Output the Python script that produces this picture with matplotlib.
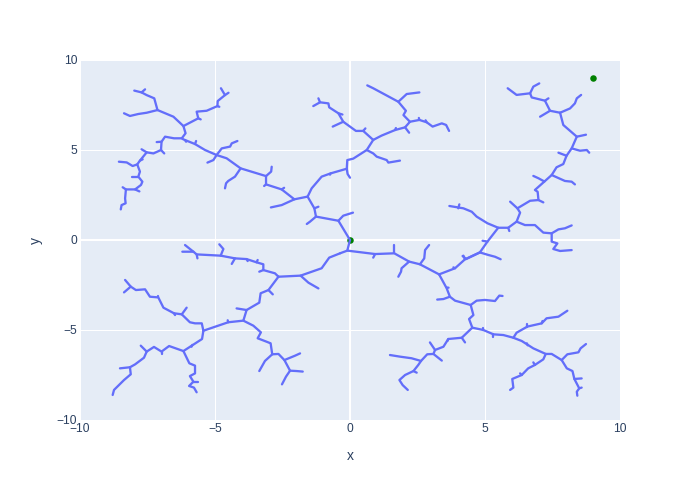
import matplotlib as mpl
mpl.use('Agg')
import matplotlib.pyplot as plt

plt.rcParams['font.family'] = ['Liberation Sans', 'DejaVu Sans']

# upper left limb, starts at the root
ul_root = [(0, 0), (-0.43, 1.07), (-1.26, 1.30), (-1.32, 1.76), (-1.57, 2.41)]
ul_a = [(-0.43, 1.07), (-0.25, 1.35), (-0.06, 1.44), (0.11, 1.52)]
ul_b = [(-1.26, 1.30), (-1.48, 1.02), (-1.60, 0.89)]
ul_c = [(-1.32, 1.76), (-1.17, 1.85)]
ul_d = [(-1.57, 2.41), (-2.06, 2.26), (-2.53, 1.94), (-2.93, 1.81)]
ul_trunk = [(-2.06, 2.26), (-2.53, 2.81), (-3.11, 3.09), (-3.11, 3.55), (-4.05, 3.98), (-4.57, 4.54),
            (-4.94, 4.72), (-5.37, 5.0), (-5.74, 5.33), (-6.17, 5.59), (-6.23, 5.65), (-6.52, 5.65),
            (-6.85, 5.74), (-6.98, 5.46), (-7.0, 5.0), (-7.28, 4.81), (-7.53, 4.87), (-7.72, 5.04)]
ul_e = [(-6.23, 5.65), (-6.09, 5.93), (-6.17, 6.33), (-6.54, 6.85), (-7.13, 7.22), (-7.25, 7.87),
        (-7.53, 8.05), (-7.72, 8.20), (-7.99, 8.30)]
ul_f = [(-7.72, 8.20), (-7.59, 8.37)]
ul_g = [(-7.13, 7.22), (-7.53, 7.07), (-7.84, 7.0), (-8.15, 6.89), (-8.37, 7.04)]
ul_h = [(-6.17, 6.33), (-5.62, 6.76), (-5.68, 7.13), (-5.31, 7.18), (-4.91, 7.44), (-4.90, 7.72),
        (-4.63, 8.05), (-4.78, 8.43)]
ul_i = [(-4.63, 8.05), (-4.50, 8.18)]
ul_j = [(-6.98, 5.46), (-7.16, 5.44)]
ul_k = [(-7.0, 5.0), (-6.88, 4.81)]
ul_l = [(-7.53, 4.87), (-7.78, 4.41), (-7.88, 4.20), (-8.05, 4.11), (-8.27, 4.31), (-8.56, 4.35)]
ul_m = [(-7.88, 4.20), (-7.78, 3.80), (-7.84, 3.52), (-7.69, 3.24), (-7.74, 3.06), (-7.96, 2.81),
        (-8.30, 2.81), (-8.33, 2.31), (-8.31, 2.04), (-8.46, 1.94), (-8.49, 1.70)]
ul_n = [(-7.84, 3.52), (-8.06, 3.52)]
ul_o = [(-8.30, 2.81), (-8.42, 2.93)]
ul_p = [(-7.96, 2.81), (-7.80, 2.70)]
ul_q = [(-4.94, 4.72), (-4.75, 5.09), (-4.44, 5.19), (-4.38, 5.37), (-4.17, 5.50)]
ul_r = [(-4.94, 4.72), (-5.06, 4.44), (-5.28, 4.30)]
ul_s = [(-4.05, 3.98), (-4.26, 3.52), (-4.51, 3.28), (-4.59, 3.15), (-4.63, 2.87)]
ul_t = [(-3.11, 3.55), (-2.92, 3.80), (-2.90, 4.07)]
ul_u = [(-3.11, 3.09), (-3.18, 3.0)]
ul_v = [(-5.74, 5.33), (-5.70, 5.50)]

# upper middle limb
um_trunk = [(-1.57, 2.41), (-1.42, 2.87), (-1.05, 3.52), (-0.72, 3.70), (-0.12, 3.96), (-0.10, 4.44),
            (0.12, 4.52), (0.62, 5.0), (0.86, 5.56)]
um_a = [(-0.12, 3.96), (-0.09, 3.67), (0, 3.46)]
um_b = [(0.62, 5.0), (0.86, 4.81), (0.99, 4.63), (1.36, 4.44), (1.42, 4.30), (1.85, 4.41)]
um_c = [(0.86, 5.56), (0.49, 6.06), (0.22, 6.06), (-0.25, 6.57), (-0.43, 7.04), (-0.77, 7.37),
        (-0.80, 7.59), (-1.11, 7.65), (-1.36, 7.44)]
um_d = [(-1.11, 7.65), (-1.17, 7.87)]
um_e = [(-0.25, 6.57), (-0.64, 6.30)]
um_f = [(0.86, 5.56), (1.17, 5.80), (1.67, 6.11), (2.04, 6.26), (2.22, 6.57), (1.98, 6.94), (2.07, 7.18),
        (1.79, 7.68), (1.17, 8.18), (0.86, 8.43), (0.64, 8.59)]
um_g = [(1.79, 7.68), (2.10, 8.11), (2.57, 8.20)]
um_h = [(2.22, 6.57), (2.57, 6.67), (2.84, 6.54), (3.06, 6.30), (3.40, 6.48), (3.56, 6.39), (3.67, 6.06)]
um_i = [(2.04, 6.26), (2.19, 5.96)]

# lower right limb, the one that goes up to the top right corner
lr_root = [(0, 0), (-0.10, -0.59), (0.93, -0.78), (1.64, -0.74), (2.19, -1.20), (2.59, -1.35), (3.30, -1.91)]
lr_a = [(-0.10, -0.59), (-0.37, -0.74)]
lr_b = [(0.93, -0.78), (0.86, -0.98)]
lr_c = [(1.64, -0.74), (1.64, -0.28)]
lr_d = [(2.19, -1.20), (1.91, -1.57), (1.89, -1.76), (1.79, -2.04)]
lr_e = [(2.59, -1.35), (2.75, -1.02), (2.78, -0.56), (2.93, -0.28)]
ur_trunk = [(3.30, -1.91), (3.89, -1.57), (4.26, -1.07), (4.81, -0.69), (5.09, -0.09), (5.49, 0.68),
            (5.86, 0.68), (6.17, 1.02), (6.30, 1.52), (6.20, 1.76), (6.67, 2.18), (6.98, 2.22), (6.95, 2.68),
            (6.85, 2.78), (7.47, 3.61), (7.65, 4.04), (7.90, 4.22), (8.02, 4.68), (8.21, 5.09), (8.40, 5.74),
            (7.90, 6.39), (7.78, 7.07)]
ur_a = [(6.20, 1.76), (5.93, 2.13)]
ur_b = [(6.98, 2.22), (7.16, 2.09)]
ur_c = [(7.20, 3.25), (6.98, 3.43), (6.79, 3.56)]
ur_d = [(7.47, 3.61), (7.96, 3.28), (8.21, 3.24), (8.33, 3.09)]
ur_e = [(8.02, 4.68), (7.72, 4.85)]
ur_f = [(8.21, 5.09), (8.52, 4.96), (8.77, 5.0), (8.86, 4.85)]
ur_g = [(8.40, 5.74), (8.74, 5.85)]
ur_h = [(7.78, 7.07), (7.41, 7.18), (7.04, 6.85)]
ur_i = [(7.41, 7.18), (7.22, 7.74), (6.73, 7.92), (6.67, 8.15), (6.17, 8.06), (5.84, 8.43)]
ur_j = [(6.67, 8.15), (6.79, 8.52), (7.01, 8.70)]
ur_k = [(7.22, 7.74), (7.35, 7.87)]
ur_l = [(7.78, 7.07), (8.15, 7.31), (8.33, 7.59), (8.40, 7.87), (8.56, 8.06)]
ur_m = [(6.17, 1.02), (6.48, 0.83), (6.85, 0.83), (7.16, 0.41), (7.47, 0.37), (7.72, 0.59), (7.96, 0.65), (8.21, 0.81)]
ur_n = [(7.47, 0.37), (7.47, -0.09), (7.68, -0.19), (7.53, -0.5), (7.78, -0.61), (8.21, -0.56)]
ur_o = [(5.09, -0.09), (4.91, -0.04)]
ur_p = [(5.49, 0.68), (5.09, 0.93), (4.69, 1.30), (4.51, 1.57), (4.20, 1.76), (3.68, 1.89)]
ur_q = [(4.01, 1.76), (4.05, 1.98)]
ur_r = [(5.86, 0.68), (5.90, 0.50)]
ur_s = [(4.81, -0.69), (4.30, -1.06), (4.17, -0.89)]
ur_t = [(4.81, -0.69), (5.12, -0.83), (5.37, -0.93), (5.58, -1.07)]
ur_u = [(4.26, -1.07), (4.20, -0.87)]

# lower right part below the first fork
lr_trunk = [(3.30, -1.91), (3.58, -2.68), (3.70, -3.15), (3.89, -3.37), (4.47, -3.61), (4.57, -4.17),
            (4.41, -4.39), (4.53, -4.87), (4.94, -5.0), (5.31, -5.24), (5.68, -5.28), (6.05, -5.43),
            (6.36, -5.61), (6.79, -6.02), (7.25, -6.33), (7.47, -6.33), (7.84, -6.67), (8.03, -7.13),
            (8.24, -7.28), (8.31, -7.72), (8.49, -8.24), (8.40, -8.43), (8.42, -8.65)]
lr_f = [(3.70, -3.15), (3.46, -3.28), (3.23, -3.31)]
lr_g = [(4.47, -3.61), (4.69, -3.37), (5.0, -3.33), (5.37, -3.39), (5.53, -3.09), (5.65, -3.11)]
lr_h = [(8.31, -7.72), (8.58, -7.69)]
lr_i = [(8.49, -8.24), (8.58, -8.20)]
lr_j = [(7.84, -6.67), (8.05, -6.35), (8.46, -6.24), (8.54, -6.02), (8.74, -5.78)]
lr_k = [(6.05, -5.43), (6.17, -5.15), (6.57, -4.81), (7.10, -4.63), (7.28, -4.35), (7.72, -4.26), (8.05, -3.93)]
lr_l = [(7.25, -6.33), (7.16, -6.63), (6.85, -6.94), (6.60, -7.13), (6.36, -7.5), (6.01, -7.72), (6.05, -8.2), (5.93, -8.33)]
lr_m = [(4.53, -4.87), (4.14, -5.43), (3.64, -5.50), (3.46, -5.93), (3.15, -6.11), (3.09, -6.33),
        (2.86, -6.35), (2.63, -6.72), (2.28, -6.57), (1.85, -6.48), (1.48, -6.39)]
lr_n = [(4.14, -5.43), (4.26, -5.69)]
lr_o = [(3.15, -6.11), (2.96, -5.69)]
lr_p = [(3.09, -6.33), (3.40, -6.70)]
lr_q = [(2.63, -6.72), (2.53, -6.94), (2.35, -7.28), (2.04, -7.50), (1.83, -7.78), (1.95, -8.06), (2.14, -8.33)]
lr_r = [(2.35, -7.28), (2.47, -7.37)]

# lower left limb
ll_root = [(-0.37, -0.74), (-0.77, -0.98), (-1.05, -1.57), (-1.83, -1.98), (-2.65, -2.04)]
ll_a = [(-2.65, -2.04), (-2.78, -1.85), (-3.21, -1.67), (-3.21, -1.35), (-3.46, -1.24), (-3.83, -1.06),
        (-4.26, -1.02), (-4.79, -0.87), (-5.68, -0.80), (-5.80, -0.65), (-6.21, -0.65)]
ll_b = [(-5.80, -0.65), (-6.11, -0.28)]
ll_c = [(-4.79, -0.87), (-4.69, -0.50), (-4.84, -0.24)]
ll_d = [(-4.26, -1.02), (-4.38, -1.33)]
ll_e = [(-5.68, -0.80), (-5.65, -1.02)]
ll_f = [(-3.21, -1.67), (-3.36, -1.76)]
ll_g = [(-1.83, -1.98), (-1.54, -2.37), (-1.17, -2.69)]
ll_trunk = [(-2.65, -2.04), (-3.02, -2.78), (-3.31, -2.96), (-3.36, -3.48), (-3.83, -3.89), (-3.95, -4.48),
            (-4.51, -4.57), (-5.43, -5.04)]
ll_h = [(-3.02, -2.78), (-2.86, -3.02)]
ll_i = [(-3.83, -3.89), (-4.20, -3.80)]
ll_j = [(-3.95, -4.48), (-3.58, -4.76), (-3.30, -5.13), (-3.42, -5.46), (-3.09, -5.65), (-2.94, -5.74),
        (-2.88, -6.35), (-3.15, -6.72), (-3.36, -7.28)]
ll_k = [(-2.88, -6.35), (-2.65, -6.33), (-2.43, -6.67), (-2.04, -6.43), (-1.85, -6.30)]
ll_l = [(-2.43, -6.67), (-2.22, -7.26), (-1.98, -7.28), (-1.75, -7.31)]
ll_m = [(-2.22, -7.26), (-2.37, -7.59), (-2.52, -8.02)]
ll_n = [(-5.43, -5.04), (-5.49, -4.63), (-5.74, -4.63), (-5.93, -4.57), (-6.23, -4.13), (-6.52, -4.07),
        (-6.91, -3.76), (-7.10, -3.19), (-7.41, -3.15), (-7.59, -2.74), (-7.93, -2.78), (-8.12, -2.59), (-8.33, -2.22)]
ll_o = [(-8.12, -2.59), (-8.37, -2.91)]
ll_p = [(-6.23, -4.13), (-6.05, -3.76)]
ll_q = [(-5.43, -5.04), (-5.48, -5.50), (-6.17, -6.17), (-6.70, -5.89), (-6.98, -6.20), (-7.26, -5.94),
        (-7.53, -6.20), (-7.75, -5.87)]
ll_r = [(-7.53, -6.20), (-7.63, -6.54), (-7.96, -6.91), (-8.15, -7.07), (-8.52, -7.13)]
ll_s = [(-8.15, -7.07), (-8.12, -7.46), (-8.37, -7.78), (-8.74, -8.33), (-8.79, -8.61)]
ll_t = [(-6.17, -6.17), (-5.95, -6.85), (-5.74, -6.98), (-5.74, -7.41), (-5.93, -7.56), (-5.80, -7.87),
        (-5.96, -8.11), (-5.78, -8.20), (-5.68, -8.46)]
ll_u = [(-5.80, -7.87), (-5.64, -7.87)]

# very short side shoots along the limbs
spurs = [[(0.49, 6.06), (0.57, 6.20)], [(1.67, 6.11), (1.70, 6.22)], [(2.57, 6.67), (2.55, 6.78)],
         [(2.84, 6.54), (2.80, 6.65)], [(-0.43, 7.04), (-0.28, 6.97)], [(-0.72, 3.70), (-0.74, 3.63)],
         [(-2.53, 2.81), (-2.44, 2.90)], [(-6.11, 5.55), (-6.07, 5.46)], [(-7.78, 4.41), (-7.68, 4.48)],
         [(-5.62, 6.76), (-5.53, 6.70)], [(-4.91, 7.44), (-4.84, 7.40)], [(3.58, -2.64), (3.65, -2.65)],
         [(3.89, -1.57), (3.83, -1.52)], [(5.31, -5.24), (5.31, -5.37)], [(4.94, -5.0), (4.94, -4.87)],
         [(6.55, -5.74), (6.58, -5.85)], [(3.64, -5.50), (3.61, -5.61)], [(6.57, -4.81), (6.57, -4.68)],
         [(7.10, -4.63), (7.13, -4.50)], [(6.85, -6.94), (6.79, -6.80)], [(6.36, -7.5), (6.30, -7.41)],
         [(-7.10, -3.19), (-7.10, -3.09)], [(-6.52, -4.07), (-6.48, -4.17)], [(-5.84, -5.83), (-5.87, -5.93)],
         [(-6.98, -6.20), (-6.98, -6.35)], [(-3.83, -1.06), (-3.79, -1.17)], [(-3.46, -1.24), (-3.42, -1.11)],
         [(-4.51, -4.57), (-4.53, -4.46)]]

start_x = [0, 9]
start_y = [0, 9]
ticks = [-10, -5, 0, 5, 10]

branches = [ul_root, ul_a, ul_b, ul_c, ul_d, ul_trunk, ul_e, ul_f, ul_g, ul_h, ul_i, ul_j, ul_k, ul_l, ul_m,
            ul_n, ul_o, ul_p, ul_q, ul_r, ul_s, ul_t, ul_u, ul_v,
            um_trunk, um_a, um_b, um_c, um_d, um_e, um_f, um_g, um_h, um_i,
            lr_root, lr_a, lr_b, lr_c, lr_d, lr_e,
            ur_trunk, ur_a, ur_b, ur_c, ur_d, ur_e, ur_f, ur_g, ur_h, ur_i, ur_j, ur_k, ur_l, ur_m, ur_n, ur_o,
            ur_p, ur_q, ur_r, ur_s, ur_t, ur_u,
            lr_trunk, lr_f, lr_g, lr_h, lr_i, lr_j, lr_k, lr_l, lr_m, lr_n, lr_o, lr_p, lr_q, lr_r,
            ll_root, ll_a, ll_b, ll_c, ll_d, ll_e, ll_f, ll_g, ll_trunk, ll_h, ll_i, ll_j, ll_k, ll_l, ll_m,
            ll_n, ll_o, ll_p, ll_q, ll_r, ll_s, ll_t, ll_u] + spurs

text_color = '#2a3f5f'

fig = plt.figure(figsize=(7, 5), dpi=100)
ax = fig.add_axes([80 / 700, 80 / 500, 540 / 700, 360 / 500])
ax.set_facecolor('#E5ECF6')
for s in ax.spines.values():
    s.set_visible(False)

ax.set_axisbelow(True)
ax.grid(True, color='white', linewidth=0.75)
ax.axhline(0, color='white', linewidth=1.5, zorder=1)
ax.axvline(0, color='white', linewidth=1.5, zorder=1)

# dots go under the tree, the origin one is partly covered in the reference
ax.scatter(start_x, start_y, s=22, color='green', linewidths=0, zorder=2)
for b in branches:
    ax.plot([p[0] for p in b], [p[1] for p in b], color='#636efa', linewidth=1.65,
            solid_joinstyle='round', solid_capstyle='round', zorder=3)

ax.set_xlim(-10, 10)
ax.set_ylim(-10, 10)
ax.set_xticks(ticks)
ax.set_yticks(ticks)
ax.set_xticklabels(['\u2212' + str(-t) if t < 0 else str(t) for t in ticks])
ax.set_yticklabels(['\u2212' + str(-t) if t < 0 else str(t) for t in ticks])
ax.tick_params(length=0, labelsize=8.64, labelcolor=text_color, pad=2)
ax.set_xlabel('x', fontsize=10, color=text_color, labelpad=10)
ax.set_ylabel('y', fontsize=10, color=text_color, labelpad=10)

plt.savefig('out.png', dpi=100)
